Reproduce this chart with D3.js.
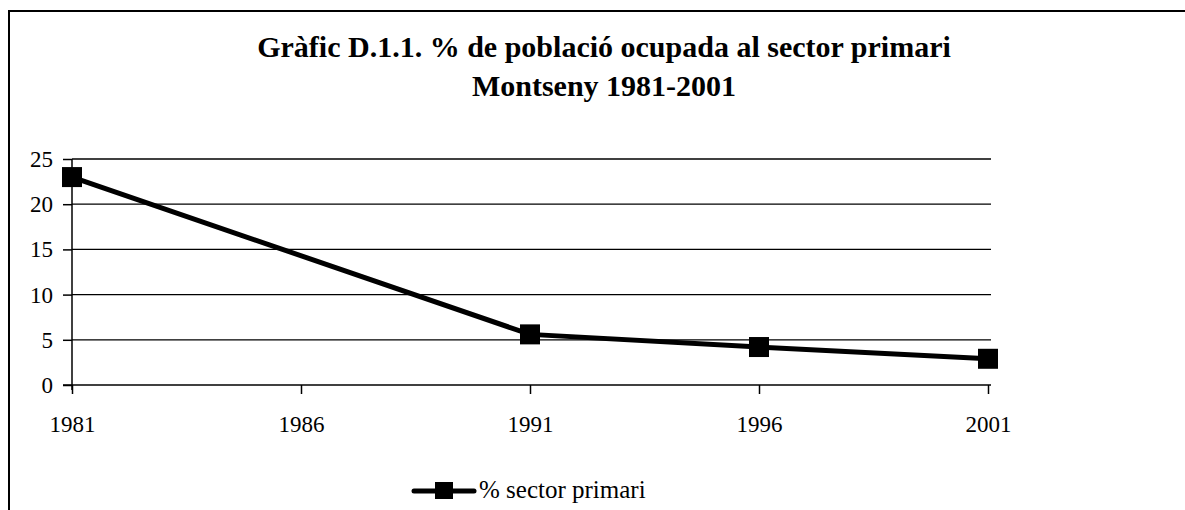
<!DOCTYPE html>
<html>
<head>
<meta charset="utf-8">
<script src="https://cdn.jsdelivr.net/npm/d3@7"></script>
<style>
  body { margin: 0; background: #fff; }
  text { font-family: "Liberation Serif", "Times New Roman", serif; fill: #000; }
</style>
</head>
<body>
<div id="chart"></div>
<script>
/* DATA */
const years = [1981, 1991, 1996, 2001];
const primari = [23.0, 5.6, 4.2, 2.9];
const xTicks = [1981, 1986, 1991, 1996, 2001];
const yTicks = [0, 5, 10, 15, 20, 25];
const titleLines = ["Gràfic D.1.1. % de població ocupada al sector primari", "Montseny 1981-2001"];
const seriesName = "% sector primari";

const width = 1185, height = 510;
const plot = { left: 72, right: 988, top: 159, bottom: 385 };

const svg = d3.select("#chart").append("svg")
  .attr("width", width)
  .attr("height", height);

// outer frame (right and bottom fall off the picture)
svg.append("path")
  .attr("d", `M9,${height + 2} V11 H${width + 2}`)
  .attr("fill", "none")
  .attr("stroke", "#000")
  .attr("stroke-width", 2);

// title
svg.append("g").selectAll("text")
  .data(titleLines)
  .join("text")
  .attr("x", 604)
  .attr("y", (d, i) => 57 + i * 39)
  .attr("text-anchor", "middle")
  .attr("font-size", 30)
  .attr("font-weight", "bold")
  .text(d => d);

// scales
const xScale = d3.scaleLinear().domain([1981, 2001]).range([plot.left, plot.right]);
const yScale = d3.scaleLinear().domain([0, 25]).range([plot.bottom, plot.top]);

// gridlines
svg.append("g")
  .selectAll("line")
  .data(yTicks.filter(d => d > 0))
  .join("line")
  .attr("x1", plot.left)
  .attr("x2", plot.right + 3)
  .attr("y1", d => yScale(d))
  .attr("y2", d => yScale(d))
  .attr("stroke", "#000")
  .attr("stroke-width", 1.3);

// y axis
const yAxis = svg.append("g")
  .attr("transform", `translate(${plot.left},0)`)
  .call(d3.axisLeft(yScale).tickValues(yTicks).tickSize(9).tickPadding(10).tickFormat(d3.format("d")));
yAxis.select(".domain").attr("stroke-width", 1.5).attr("d", `M0,${plot.top}V${plot.bottom + 5}`);
yAxis.selectAll(".tick line").attr("stroke-width", 1.5);
yAxis.selectAll("text").attr("font-size", 23).attr("font-family", "Liberation Serif, serif").attr("dy", "0.33em");

// x axis
const xAxis = svg.append("g")
  .attr("transform", `translate(0,${plot.bottom})`)
  .call(d3.axisBottom(xScale).tickValues(xTicks).tickSize(9).tickPadding(22).tickFormat(d3.format("d")));
xAxis.select(".domain").attr("stroke-width", 1.5).attr("d", `M${plot.left - 9},0H${plot.right + 3}`);
xAxis.selectAll(".tick line").attr("stroke-width", 1.5);
xAxis.selectAll("text").attr("font-size", 23).attr("font-family", "Liberation Serif, serif");

// line
const line = d3.line()
  .x((d, i) => xScale(years[i]))
  .y(d => yScale(d));

svg.append("path")
  .datum(primari)
  .attr("fill", "none")
  .attr("stroke", "#000")
  .attr("stroke-width", 5)
  .attr("d", line);

// markers
const m = 20;
svg.append("g")
  .selectAll("rect")
  .data(primari)
  .join("rect")
  .attr("x", (d, i) => xScale(years[i]) - m / 2)
  .attr("y", d => yScale(d) - m / 2)
  .attr("width", m)
  .attr("height", m)
  .attr("fill", "#000");

// legend
const legend = svg.append("g").attr("transform", "translate(414,491)");
legend.append("line")
  .attr("x1", 0).attr("x2", 60)
  .attr("stroke", "#000").attr("stroke-width", 5).attr("stroke-linecap", "round");
legend.append("rect")
  .attr("x", 21).attr("y", -9).attr("width", 18).attr("height", 17).attr("fill", "#000");
legend.append("text")
  .attr("x", 65).attr("y", 7)
  .attr("font-size", 25)
  .text(seriesName);
</script>
</body>
</html>
